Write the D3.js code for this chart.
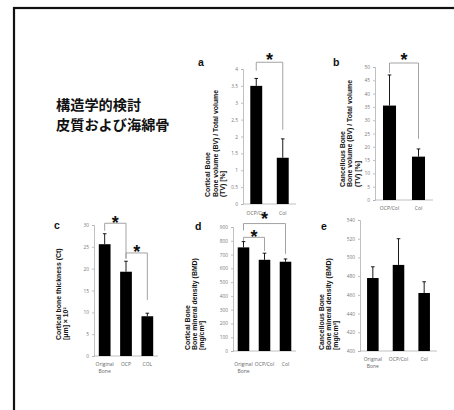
<!DOCTYPE html>
<html>
<head>
<meta charset="utf-8">
<script src="https://cdn.jsdelivr.net/npm/d3@7/dist/d3.min.js"></script>
<style>
  html, body { margin: 0; padding: 0; background: #fff; }
  svg { display: block; }
</style>
</head>
<body>
<svg id="chart" width="454" height="410"></svg>
<script>
// ---- data ----
const headingLines = ["構造学的検討", "皮質および海綿骨"];

const aCategories = ["OCP/Col", "Col"];
const aValues = [3.5, 1.37];
const aErrors = [0.22, 0.56];
const aTicks = [0, 0.5, 1, 1.5, 2, 2.5, 3, 3.5, 4];
const aTitle = ["Cortical Bone", "Bone volume (BV) / Total volume", "(TV) [%]"];

const bCategories = ["OCP/Col", "Col"];
const bValues = [35.5, 16.3];
const bErrors = [11.5, 2.9];
const bTicks = [0, 5, 10, 15, 20, 25, 30, 35, 40, 45, 50];
const bTitle = ["Cancellous Bone", "Bone volume (BV) / Total volume", "(TV) [%]"];

const cCategories = [["Original", "Bone"], ["OCP"], ["COL"]];
const cValues = [25.6, 19.3, 9.1];
const cErrors = [2.4, 2.4, 0.7];
const cTicks = [0, 5, 10, 15, 20, 25, 30];
const cTitle = ["Cortical bone thickness (Ct)", "[μm] × 10²"];

const dCategories = [["Original", "Bone"], ["OCP/Col"], ["Col"]];
const dValues = [752, 662, 648];
const dErrors = [42, 48, 20];
const dTicks = [0, 100, 200, 300, 400, 500, 600, 700, 800, 900];
const dTitle = ["Cortical Bone", "Bone mineral  density (BMD)", "[mg/cm³]"];

const eCategories = [["Original", "Bone"], ["OCP/Col"], ["Col"]];
const eValues = [478, 492, 462];
const eErrors = [12, 28, 12];
const eTicks = [400, 420, 440, 460, 480, 500, 520, 540];
const eTitle = ["Cancellous Bone", "Bone mineral  density (BMD)", "[mg/cm³]"];

// ---- drawing ----
const svg = d3.select("#chart");
const latin = "'Liberation Sans', Arial, sans-serif";
const light = "'Open Sans', 'Liberation Sans', sans-serif";

// outer frame (runs off the right and bottom edges)
svg.append("rect")
  .attr("x", 14).attr("y", 8).attr("width", 460).attr("height", 420)
  .attr("fill", "none").attr("stroke", "#111").attr("stroke-width", 2.2);

// heading
svg.append("g").selectAll("text").data(headingLines).join("text")
  .attr("x", 56).attr("y", (d, i) => 110 + i * 20)
  .attr("font-family", "'Noto Sans CJK JP', sans-serif")
  .attr("font-weight", 700).attr("font-size", 14.2).attr("fill", "#111")
  .text(d => d);

function panel(opt) {
  const g = svg.append("g");
  const y = d3.scaleLinear().domain(opt.domain).range([opt.y0, opt.y1]);
  const x = d3.scaleBand().domain(d3.range(opt.values.length))
    .range([opt.x0, opt.x1]).paddingInner(opt.pad).paddingOuter(opt.pad / 2);

  // y axis
  const axis = d3.axisLeft(y).tickValues(opt.ticks).tickSize(2).tickPadding(3)
    .tickFormat(opt.fmt || (d => d));
  const ag = g.append("g").attr("transform", `translate(${opt.x0},0)`).call(axis);
  ag.select(".domain").attr("stroke", "#b0b0b0").attr("stroke-width", 0.8);
  ag.selectAll(".tick line").attr("stroke", "#b0b0b0").attr("stroke-width", 0.8);
  ag.selectAll(".tick text").attr("font-family", light).attr("font-size", 4.8)
    .attr("fill", "#777");

  // x baseline
  g.append("line").attr("x1", opt.x0).attr("x2", opt.x1)
    .attr("y1", opt.y0).attr("y2", opt.y0)
    .attr("stroke", "#b0b0b0").attr("stroke-width", 0.8);

  // bars
  g.selectAll("rect.bar").data(opt.values).join("rect").attr("class", "bar")
    .attr("x", (d, i) => x(i)).attr("width", x.bandwidth())
    .attr("y", d => y(d)).attr("height", d => opt.y0 - y(d))
    .attr("fill", "#000");

  // error bars (upper half only)
  const eg = g.append("g").attr("stroke", "#000").attr("stroke-width", 0.9);
  opt.values.forEach((v, i) => {
    const cx = x(i) + x.bandwidth() / 2;
    const top = y(v + opt.errors[i]);
    eg.append("line").attr("x1", cx).attr("x2", cx).attr("y1", y(v)).attr("y2", top);
    eg.append("line").attr("x1", cx - 1.8).attr("x2", cx + 1.8).attr("y1", top).attr("y2", top);
  });

  // category labels
  const lg = g.append("g").attr("font-family", light).attr("font-size", 5)
    .attr("fill", "#666").attr("text-anchor", "middle");
  opt.categories.forEach((c, i) => {
    const lines = Array.isArray(c) ? c : [c];
    const t = lg.append("text").attr("x", x(i) + x.bandwidth() / 2).attr("y", opt.labelY);
    lines.forEach((s, k) => t.append("tspan")
      .attr("x", x(i) + x.bandwidth() / 2).attr("dy", k ? 7 : 0).text(s));
  });

  // rotated axis title
  const tt = g.append("text")
    .attr("transform", `translate(${opt.titleX},${opt.titleY}) rotate(-90)`)
    .attr("font-family", latin).attr("font-weight", 700)
    .attr("font-size", opt.titleSize || 6.9).attr("fill", "#111");
  opt.title.forEach((s, k) => tt.append("tspan").attr("x", 0)
    .attr("dy", k ? opt.titleGap : 0).text(s));

  // panel letter
  g.append("text").attr("x", opt.letterX).attr("y", opt.letterY)
    .attr("font-family", latin).attr("font-weight", 700).attr("font-size", 10.5)
    .attr("fill", "#111").text(opt.letter);

  // significance brackets
  (opt.brackets || []).forEach(b => {
    const xa = x(b.from) + x.bandwidth() / 2 + (b.dxa || 0);
    const xb = x(b.to) + x.bandwidth() / 2 + (b.dxb || 0);
    const hy = y(b.level);
    g.append("path")
      .attr("d", `M${xa},${y(b.leftEnd)}V${hy}H${xb}V${y(b.rightEnd)}`)
      .attr("fill", "none").attr("stroke", "#999").attr("stroke-width", 0.9);
    // asterisk centred a few px above the bracket
    g.append("text").attr("x", (xa + xb) / 2).attr("y", hy - (b.lift || 6) + 10.4)
      .attr("text-anchor", "middle").attr("font-family", latin)
      .attr("font-weight", 700).attr("font-size", 18).attr("fill", "#111").text("*");
  });
  return g;
}

panel({
  letter: "a", letterX: 198, letterY: 66,
  domain: [0, 4], ticks: aTicks, y0: 204, y1: 69, x0: 243, x1: 296, pad: 0.55,
  values: aValues, errors: aErrors, categories: aCategories, labelY: 215,
  fmt: d => String(d),
  title: aTitle, titleX: 210, titleY: 197, titleGap: 7.6,
  brackets: [{ from: 0, to: 1, level: 4.2, leftEnd: 3.95, rightEnd: 2.2, lift: 7 }]
});

panel({
  letter: "b", letterX: 333, letterY: 66,
  domain: [0, 50], ticks: bTicks, y0: 200, y1: 67, x0: 375, x1: 433, pad: 0.55,
  values: bValues, errors: bErrors, categories: bCategories, labelY: 210,
  title: bTitle, titleX: 345, titleY: 187, titleGap: 7.4,
  brackets: [{ from: 0, to: 1, level: 51.5, leftEnd: 47.8, rightEnd: 23, lift: 7 }]
});

panel({
  letter: "c", letterX: 54, letterY: 229,
  domain: [0, 30], ticks: cTicks, y0: 356, y1: 225, x0: 94, x1: 158, pad: 0.45,
  values: cValues, errors: cErrors, categories: cCategories, labelY: 366,
  title: cTitle, titleX: 61, titleY: 340, titleGap: 7.4,
  brackets: [
    { from: 0, to: 1, level: 30.4, leftEnd: 28.7, rightEnd: 22.4, lift: 5 },
    { from: 1, to: 2, level: 23.6, leftEnd: 22.2, rightEnd: 12.8, lift: 5 }
  ]
});

panel({
  letter: "d", letterX: 195, letterY: 230,
  domain: [0, 900], ticks: dTicks, y0: 351, y1: 227, x0: 233, x1: 296, pad: 0.45,
  values: dValues, errors: dErrors, categories: dCategories, labelY: 366,
  title: dTitle, titleX: 190, titleY: 350, titleGap: 7.2,
  brackets: [
    { from: 0, to: 2, level: 925, leftEnd: 875, rightEnd: 705, lift: 9 },
    { from: 0, to: 1, level: 825, leftEnd: 800, rightEnd: 725, lift: 5 }
  ]
});

panel({
  letter: "e", letterX: 321, letterY: 230,
  domain: [400, 540], ticks: eTicks, y0: 351, y1: 220, x0: 360, x1: 437, pad: 0.55,
  values: eValues, errors: eErrors, categories: eCategories, labelY: 361,
  title: eTitle, titleX: 324, titleY: 350, titleGap: 6.8
});
</script>
</body>
</html>
